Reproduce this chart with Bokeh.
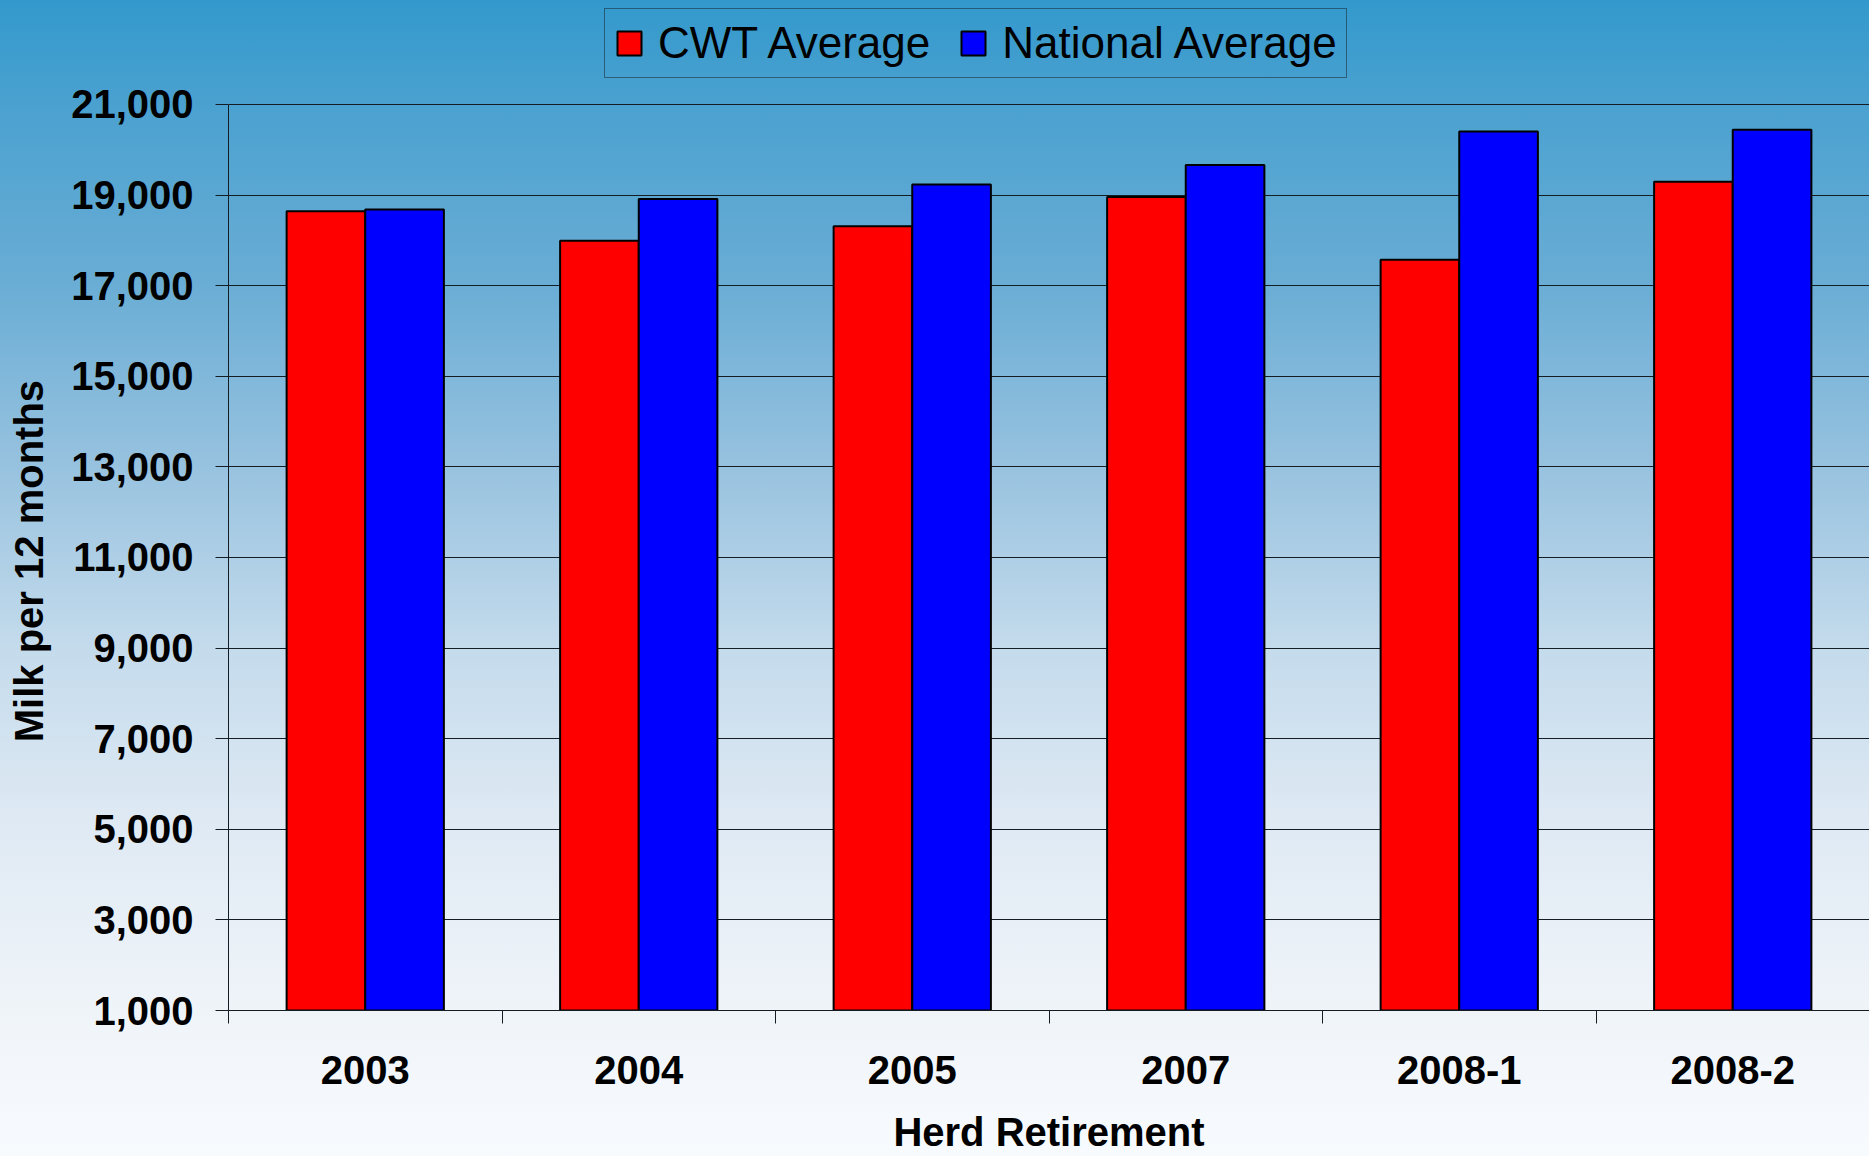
import numpy as np
from bokeh.plotting import figure
from bokeh.models import ColumnDataSource, Range1d, FixedTicker, NumeralTickFormatter, Legend, LegendItem
from bokeh.transform import dodge
from bokeh.embed import file_html
from bokeh.resources import INLINE

# ---- data ----
categories = ["2003", "2004", "2005", "2007", "2008-1", "2008-2"]
cwt_average = [18640, 17990, 18310, 18955, 17570, 19290]
national_average = [18680, 18910, 19230, 19660, 20400, 20440]
series_names = ["CWT Average", "National Average"]
y_ticks = [1000, 3000, 5000, 7000, 9000, 11000, 13000, 15000, 17000, 19000, 21000]
x_label = "Herd Retirement"
y_label = "Milk per 12 months"

n = len(categories)
idx = np.arange(n) + 0.5
src = ColumnDataSource(dict(idx=idx, cwt=cwt_average, nat=national_average, cat=categories))

FONT = "Liberation Sans"
DARK = "#141c24"

W, H = 1869, 1156
BL, BB = 228, 145
FRAME_H = H - BB          # frame runs from the top of the canvas to the x axis
TOP_PX = 104              # pixel row of the highest tick inside the frame
y0, y1 = y_ticks[0], y_ticks[-1]
y_end = y1 + TOP_PX * (y1 - y0) / (FRAME_H - TOP_PX)

p = figure(width=W, height=H, output_backend="svg", toolbar_location=None,
           x_range=Range1d(0, n), y_range=Range1d(y0, y_end),
           min_border_left=BL, min_border_right=0, min_border_top=0, min_border_bottom=BB)
p.background_fill_color = None
p.border_fill_color = None
p.outline_line_color = None
p.styles = {"background": "linear-gradient(to bottom, #3399cc 0%, #4aa1d0 8.9%, #6aadd5 24.7%, "
                          "#97c2df 40.2%, #c4dbec 56%, #e0eaf4 71.8%, #eff4f9 87.4%, #f8fbfe 100%)"}

bw = 0.2875
r1 = p.vbar(x=dodge("idx", -bw / 2, range=p.x_range), top="cwt", bottom=y0, width=bw,
            source=src, fill_color="#ff0000", line_color="black", line_width=2)
r2 = p.vbar(x=dodge("idx", bw / 2, range=p.x_range), top="nat", bottom=y0, width=bw,
            source=src, fill_color="#0000ff", line_color="black", line_width=2)

# y axis
p.yaxis.ticker = FixedTicker(ticks=y_ticks)
p.yaxis.bounds = (y0, y1)
p.yaxis.formatter = NumeralTickFormatter(format="0,0")
p.yaxis.major_label_text_font = FONT
p.yaxis.major_label_text_font_style = "bold"
p.yaxis.major_label_text_font_size = "40px"
p.yaxis.major_label_text_color = "black"
p.yaxis.major_label_standoff = 22
p.yaxis.major_tick_out = 13
p.yaxis.major_tick_in = 0
p.yaxis.minor_tick_out = 0
p.yaxis.minor_tick_in = 0
p.yaxis.axis_line_color = DARK
p.yaxis.major_tick_line_color = DARK
# the frame reaches the top of the canvas, so pad the centred title to sit
# mid-way along the 1,000-21,000 span as in the original
p.yaxis.axis_label = y_label + "\u00a0" * 10
p.yaxis.axis_label_text_font = FONT
p.yaxis.axis_label_text_font_style = "bold"
p.yaxis.axis_label_text_font_size = "40px"
p.yaxis.axis_label_text_color = "black"
p.yaxis.axis_label_standoff = 17

p.ygrid.ticker = FixedTicker(ticks=y_ticks)
p.ygrid.grid_line_color = DARK
p.ygrid.grid_line_width = 1
p.xgrid.visible = False

# x axis: labels at centres, ticks at boundaries
p.xaxis.ticker = FixedTicker(ticks=list(idx), minor_ticks=list(range(n + 1)))
p.xaxis.major_label_overrides = {float(v): c for v, c in zip(idx, categories)}
p.xaxis.major_tick_out = 0
p.xaxis.major_tick_in = 0
p.xaxis.minor_tick_out = 13
p.xaxis.minor_tick_in = 0
p.xaxis.minor_tick_line_color = DARK
p.xaxis.axis_line_color = DARK
p.xaxis.major_label_text_font = FONT
p.xaxis.major_label_text_font_style = "bold"
p.xaxis.major_label_text_font_size = "40px"
p.xaxis.major_label_text_color = "black"
p.xaxis.major_label_standoff = 32
p.xaxis.axis_label = x_label
p.xaxis.axis_label_text_font = FONT
p.xaxis.axis_label_text_font_style = "bold"
p.xaxis.axis_label_text_font_size = "40px"
p.xaxis.axis_label_text_color = "black"
p.xaxis.axis_label_standoff = 23

LH = 71
legend = Legend(items=[LegendItem(label=series_names[0], renderers=[r1]),
                       LegendItem(label=series_names[1], renderers=[r2])],
                orientation="horizontal", location=(604 - BL, FRAME_H - 8 - LH),
                border_line_color=DARK, border_line_width=1, background_fill_alpha=0,
                label_text_font=FONT, label_text_font_size="44px", label_text_color="black",
                glyph_width=30, glyph_height=30, padding=9, spacing=28, label_standoff=14, margin=0)
p.add_layout(legend, "center")

open("out.html", "w").write(file_html(p, INLINE))
